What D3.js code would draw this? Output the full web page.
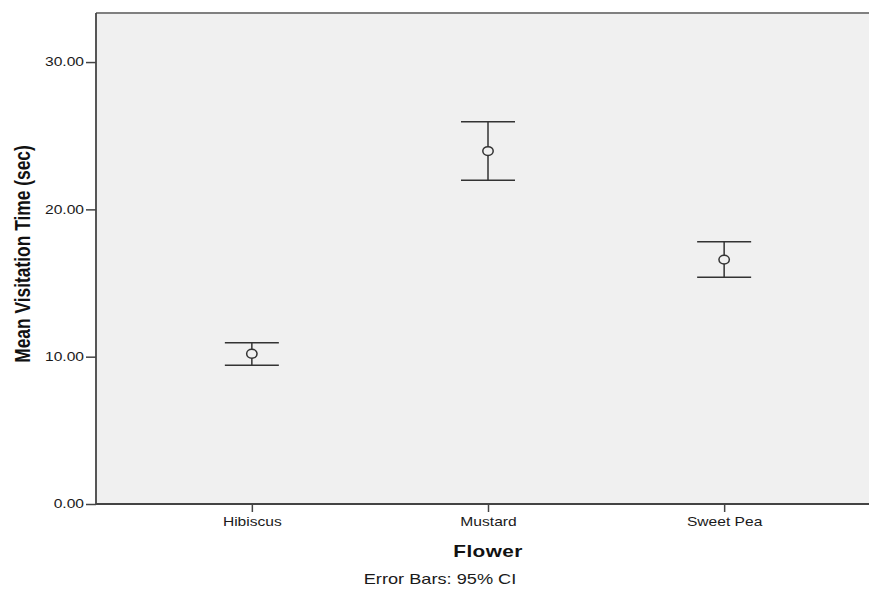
<!DOCTYPE html>
<html>
<head>
<meta charset="utf-8">
<script src="https://cdn.jsdelivr.net/npm/d3@7"></script>
<style>
  body { margin: 0; background: #fff; }
  svg { display: block; font-family: Arial, "Liberation Sans", sans-serif; }
</style>
</head>
<body>
<svg id="chart" width="869" height="594"></svg>
<script>
// values
let flowers = ['Hibiscus', 'Mustard', 'Sweet Pea']
let means = [10.20, 23.96, 16.59]
let lower = [9.42, 21.97, 15.39]
let upper = [10.95, 25.95, 17.81]
let yTicks = [0, 10, 20, 30]

let data = flowers.map((f, i) => ({ name: f, mean: means[i], lo: lower[i], hi: upper[i] }))

let svg = d3.select('#chart')

let plotLeft = 96, plotTop = 13, plotRight = 880, plotBottom = 504
// the source image is stretched sideways, text looks wider than tall
let stretch = 1.3

let x = d3.scalePoint()
    .domain(flowers)
    .range([plotLeft, plotRight])
    .padding(0.66)

let y = d3.scaleLinear()
    .domain([0, 33.33])
    .range([plotBottom, plotTop])

// plot background
svg.append('rect')
    .attr('x', plotLeft)
    .attr('y', plotTop)
    .attr('width', plotRight - plotLeft)
    .attr('height', plotBottom - plotTop)
    .attr('fill', '#f0f0f0')

// top border
svg.append('line')
    .attr('x1', plotLeft).attr('x2', plotRight)
    .attr('y1', plotTop).attr('y2', plotTop)
    .attr('stroke', '#808080')
    .attr('stroke-width', 2)

// y axis
let yAxis = svg.append('g')
    .attr('transform', 'translate(' + plotLeft + ',0)')
    .call(d3.axisLeft(y).tickValues(yTicks).tickSize(10).tickPadding(2).tickFormat(d3.format('.2f')))
yAxis.select('.domain').attr('stroke', '#444').attr('stroke-width', 1.8)
    .attr('d', 'M0,' + plotTop + 'V' + plotBottom)
yAxis.selectAll('.tick line').attr('stroke', '#444').attr('stroke-width', 1.5)
yAxis.selectAll('.tick text')
    .attr('x', -12 / stretch)
    .attr('transform', 'scale(' + stretch + ',1)')
    .attr('font-size', 12)
    .attr('fill', '#1a1a1a')
    .style('font-family', 'Arial, "Liberation Sans", sans-serif')

// x axis
let xAxis = svg.append('g')
    .attr('transform', 'translate(0,' + plotBottom + ')')
    .call(d3.axisBottom(x).tickSize(8).tickPadding(5).tickSizeOuter(0))
xAxis.select('.domain').attr('stroke', '#444').attr('stroke-width', 1.8)
    .attr('d', 'M' + plotLeft + ',0H' + plotRight)
xAxis.selectAll('.tick line').attr('stroke', '#444').attr('stroke-width', 1.5)
xAxis.selectAll('.tick text')
    .attr('transform', 'scale(' + stretch + ',1)')
    .attr('font-size', 12)
    .attr('fill', '#1a1a1a')
    .style('font-family', 'Arial, "Liberation Sans", sans-serif')

// error bars
let capHalf = 27
let bars = svg.append('g')
    .selectAll('g')
    .data(data)
    .enter()
    .append('g')
    .attr('stroke', '#333')
    .attr('stroke-width', 1.5)
    .attr('fill', 'none')

bars.append('line')
    .attr('x1', (d) => x(d.name))
    .attr('x2', (d) => x(d.name))
    .attr('y1', (d) => y(d.hi))
    .attr('y2', (d) => y(d.lo))

bars.append('line')
    .attr('x1', (d) => x(d.name) - capHalf)
    .attr('x2', (d) => x(d.name) + capHalf)
    .attr('y1', (d) => y(d.hi))
    .attr('y2', (d) => y(d.hi))

bars.append('line')
    .attr('x1', (d) => x(d.name) - capHalf)
    .attr('x2', (d) => x(d.name) + capHalf)
    .attr('y1', (d) => y(d.lo))
    .attr('y2', (d) => y(d.lo))

bars.append('ellipse')
    .attr('cx', (d) => x(d.name))
    .attr('cy', (d) => y(d.mean))
    .attr('rx', 5.2)
    .attr('ry', 4.4)
    .attr('fill', '#f0f0f0')

// titles
svg.append('text')
    .attr('transform', 'translate(' + x('Mustard') + ',557) scale(' + stretch + ',1)')
    .attr('text-anchor', 'middle')
    .attr('font-size', 16)
    .attr('font-weight', 'bold')
    .attr('letter-spacing', 0.3)
    .attr('fill', '#111')
    .text('Flower')

svg.append('text')
    .attr('transform', 'translate(440,583.5) scale(' + stretch + ',1)')
    .attr('text-anchor', 'middle')
    .attr('font-size', 14)
    .attr('fill', '#1a1a1a')
    .text('Error Bars: 95% CI')

svg.append('text')
    .attr('transform', 'translate(30,254) scale(' + stretch + ',1) rotate(-90)')
    .attr('text-anchor', 'middle')
    .attr('font-size', 17.4)
    .attr('font-weight', 'bold')
    .attr('fill', '#111')
    .text('Mean Visitation Time (sec)')
</script>
</body>
</html>
